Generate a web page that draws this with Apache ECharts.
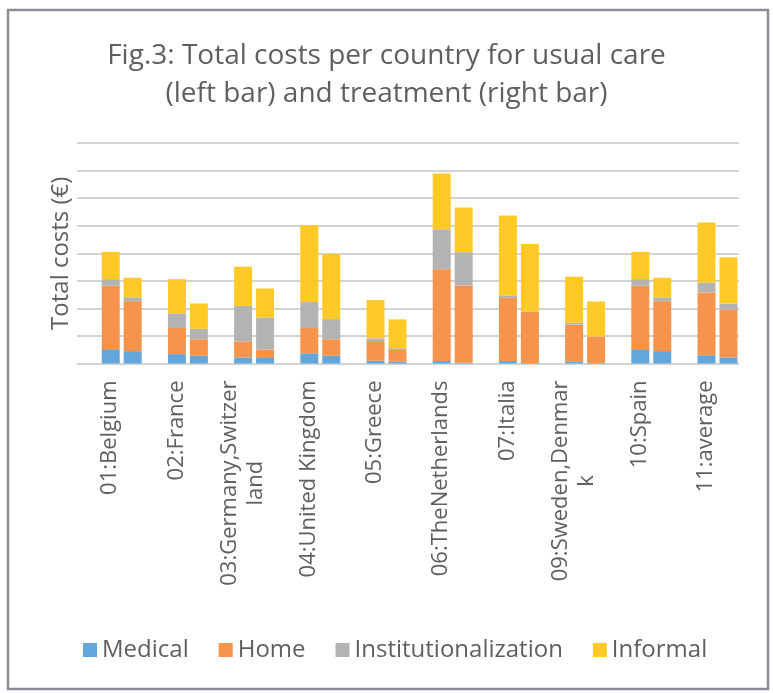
<!DOCTYPE html>
<html>
<head>
<meta charset="utf-8">
<script src="https://cdn.jsdelivr.net/npm/echarts@6/dist/echarts.min.js"></script>
<style>
  html, body { margin: 0; padding: 0; background: #fff; }
  #chart { width: 773px; height: 693px; }
</style>
</head>
<body>
<div id="chart"></div>
<script>
// countries (08 is missing in the source figure)
const categories = ['01:Belgium', '02:France', '03:Germany,Switzerland', '04:United Kingdom', '05:Greece',
  '06:TheNetherlands', '07:Italia', '09:Sweden,Denmark', '10:Spain', '11:average'];
// axis text as wrapped in the figure
const tickLabels = ['01:Belgium', '02:France', '03:Germany,Switzer\nland', '04:United Kingdom', '05:Greece',
  '06:TheNetherlands', '07:Italia', '09:Sweden,Denmar\nk', '10:Spain', '11:average'];

const costTypes = ['Medical', 'Home', 'Institutionalization', 'Informal'];

// usual care (left bar), €
const usualMedical  = [490, 340, 220, 370, 100, 90, 90, 80, 490, 300];
const usualHome     = [2330, 950, 580, 920, 680, 3330, 2290, 1330, 2330, 2280];
const usualInst     = [240, 530, 1290, 940, 130, 1450, 80, 70, 240, 360];
const usualInformal = [990, 1240, 1420, 2790, 1390, 2020, 2910, 1670, 990, 2180];

// treatment (right bar), €
const treatMedical  = [450, 280, 200, 280, 70, 30, 20, 20, 450, 220];
const treatHome     = [1810, 600, 310, 600, 420, 2800, 1860, 950, 1810, 1740];
const treatInst     = [140, 380, 1160, 730, 60, 1210, 20, 10, 140, 220];
const treatInformal = [710, 920, 1050, 2360, 1050, 1620, 2440, 1270, 710, 1670];

const colors = ['#62A6DC', '#F5944A', '#B3B3B3', '#FFC926'];
const textColor = '#5f5f5f';
const font = 'Open Sans';

const usual = [usualMedical, usualHome, usualInst, usualInformal];
const treat = [treatMedical, treatHome, treatInst, treatInformal];

const series = [];
costTypes.forEach((name, i) => {
  series.push({
    name, type: 'bar', stack: 'usual', xAxisIndex: 1, yAxisIndex: 1,
    barWidth: 18, barGap: '22%', data: usual[i], itemStyle: { color: colors[i] }
  });
});
costTypes.forEach((name, i) => {
  series.push({
    name, type: 'bar', stack: 'treat', xAxisIndex: 1, yAxisIndex: 1,
    barWidth: 18, barGap: '22%', data: treat[i], itemStyle: { color: colors[i] }
  });
});

const chart = echarts.init(document.getElementById('chart'));
chart.setOption({
  animation: false,
  color: colors,
  title: {
    text: 'Fig.3: Total costs per country for usual care\n(left bar) and treatment (right bar)',
    left: 'center',
    top: 32,
    textStyle: { fontFamily: font, fontSize: 28, fontWeight: 'normal', color: textColor, lineHeight: 38 }
  },
  legend: {
    data: costTypes,
    left: 78,
    top: 633,
    icon: 'rect',
    itemWidth: 14,
    itemHeight: 14,
    itemGap: 30,
    textStyle: { fontFamily: font, fontSize: 24, color: textColor }
  },
  graphic: [{
    type: 'rect',
    shape: { x: 8, y: 10, width: 760, height: 679 },
    style: { fill: 'none', stroke: '#8c8c96', lineWidth: 2.5 },
    silent: true
  }],
  grid: [
    // gridlines and axis text
    { left: 77, right: 34, top: 143, bottom: 329.5 },
    // bars (shifted to the right like in the figure)
    { left: 88.6, right: 22.4, top: 143, bottom: 329.5 }
  ],
  xAxis: [
    {
      type: 'category', gridIndex: 0, data: tickLabels,
      axisLine: { show: false }, axisTick: { show: false },
      axisLabel: {
        interval: 0, rotate: 90, margin: 17,
        fontFamily: font, fontSize: 22, color: textColor,
        formatter: v => v.split('\n').map(l => '{c|' + l + '}').join('\n'),
        rich: { c: { align: 'center', fontFamily: font, fontSize: 22, color: textColor, lineHeight: 26 } }
      }
    },
    { type: 'category', gridIndex: 1, data: categories, show: false }
  ],
  yAxis: [
    {
      type: 'value', gridIndex: 0, min: 0, max: 8000, interval: 1000,
      name: 'Total costs (€)', nameLocation: 'middle', nameGap: 4,
      nameTextStyle: { fontFamily: font, fontSize: 24, color: textColor },
      axisLine: { show: false }, axisTick: { show: false }, axisLabel: { show: false },
      splitLine: { lineStyle: { color: '#d3d3d3', width: 2 } }
    },
    { type: 'value', gridIndex: 1, min: 0, max: 8000, interval: 1000, show: false, splitLine: { show: false } }
  ],
  series
});
</script>
</body>
</html>
